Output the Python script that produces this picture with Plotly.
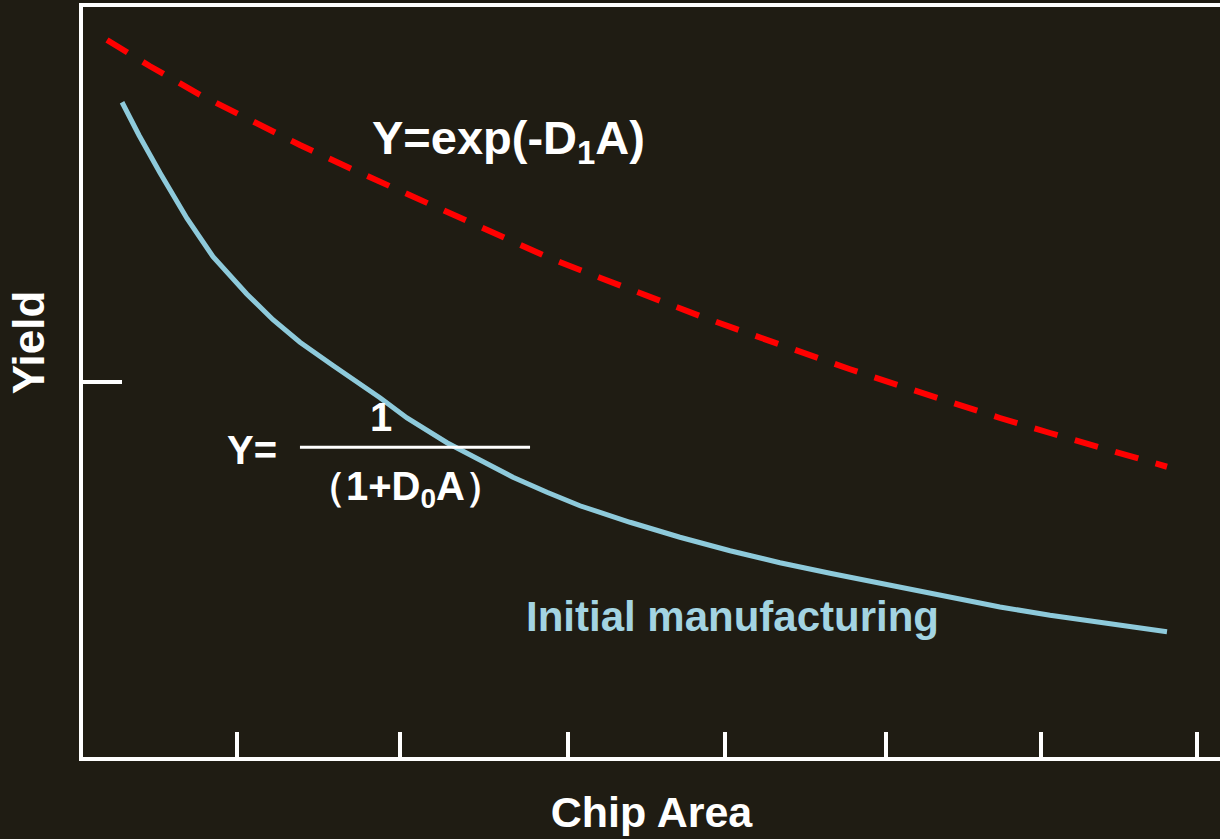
import plotly.graph_objects as go

# ---- data (arbitrary units) ----
area_exp = [0.15, 0.419, 0.731, 1.044, 1.356, 1.669, 1.981, 2.294, 2.606, 2.919, 3.231, 3.544,
            3.856, 4.169, 4.481, 4.794, 5.106, 5.419, 5.731, 6.044, 6.356, 6.775]
yield_exp = [0.956, 0.921, 0.883, 0.849, 0.816, 0.785, 0.755, 0.724, 0.693, 0.665, 0.639, 0.613,
             0.588, 0.564, 0.540, 0.517, 0.495, 0.473, 0.452, 0.432, 0.412, 0.387]

area_init = [0.244, 0.35, 0.481, 0.65, 0.8125, 1.025, 1.1875, 1.356, 1.5625, 1.856, 2.025, 2.275,
             2.481, 2.6875, 2.9, 3.106, 3.419, 3.731, 4.044, 4.356, 4.669, 4.981, 5.419, 5.731,
             6.044, 6.356, 6.775]
yield_init = [0.873, 0.829, 0.779, 0.718, 0.667, 0.617, 0.583, 0.553, 0.522, 0.479, 0.452, 0.419,
              0.396, 0.373, 0.353, 0.335, 0.313, 0.293, 0.275, 0.259, 0.245, 0.232, 0.213, 0.200,
              0.189, 0.179, 0.167]

x_tick_vals = [0.96, 1.98, 3.03, 4.01, 5.02, 5.99, 6.96]
y_tick_vals = [0.5]

BG = "#1f1c13"
FONT = "Liberation Sans, Arial, Helvetica, sans-serif"
RED = "#ff0000"
BLUE = "#8ecadb"
BLUE_TXT = "#a3d4e2"

fig = go.Figure()
fig.add_trace(go.Scatter(x=area_exp, y=yield_exp, mode="lines", name="Y=exp(-D1A)",
                         line=dict(color=RED, width=6, dash="24px,18px")))
fig.add_trace(go.Scatter(x=area_init, y=yield_init, mode="lines", name="Initial manufacturing",
                         line=dict(color=BLUE, width=5)))

def txt(text, x, y, size, color="white", **kw):
    fig.add_annotation(text=text, x=x, y=y, xref="x", yref="y", showarrow=False,
                       font=dict(family=FONT, size=size, color=color, weight="bold"),
                       xanchor="center", yanchor="middle", **kw)

txt("Y=exp(-D<sub>1</sub>A)", 2.66, 0.822, 47)
txt("Initial manufacturing", 4.06, 0.187, 42, color=BLUE_TXT)
txt("Y=", 1.056, 0.41, 40)
txt("1", 1.8625, 0.454, 40)
txt("（1+D<sub>0</sub>A）", 2.0125, 0.358, 40)

fig.add_shape(type="line", x0=1.356, x1=2.794, y0=0.413, y1=0.413, xref="x", yref="y",
              line=dict(color="white", width=3))

fig.add_annotation(text="Yield", x=(28 - 83) / 1137, y=0.553, xref="paper", yref="paper",
                   showarrow=False, textangle=-90,
                   font=dict(family=FONT, size=44, color="white", weight="bold"),
                   xanchor="center", yanchor="middle")

fig.update_layout(
    width=1220, height=839,
    paper_bgcolor=BG, plot_bgcolor=BG,
    margin=dict(l=83, r=0, t=7, b=82),
    showlegend=False,
    xaxis=dict(range=[0, 1137 / 160], showgrid=False, zeroline=False,
               showline=True, linecolor="white", linewidth=4, mirror=True,
               ticks="inside", ticklen=25, tickwidth=4, tickcolor="white",
               tickvals=x_tick_vals, showticklabels=False,
               title=dict(text="Chip Area", standoff=38,
                          font=dict(family=FONT, size=43, color="white", weight="bold"))),
    yaxis=dict(range=[0, 1], showgrid=False, zeroline=False,
               showline=True, linecolor="white", linewidth=4, mirror=False,
               ticks="inside", ticklen=39, tickwidth=4, tickcolor="white",
               tickvals=y_tick_vals, showticklabels=False),
)

fig.write_html("out.html", config={"displayModeBar": False},
               post_script="document.body.style.margin='0';document.body.style.background='%s';" % BG)
